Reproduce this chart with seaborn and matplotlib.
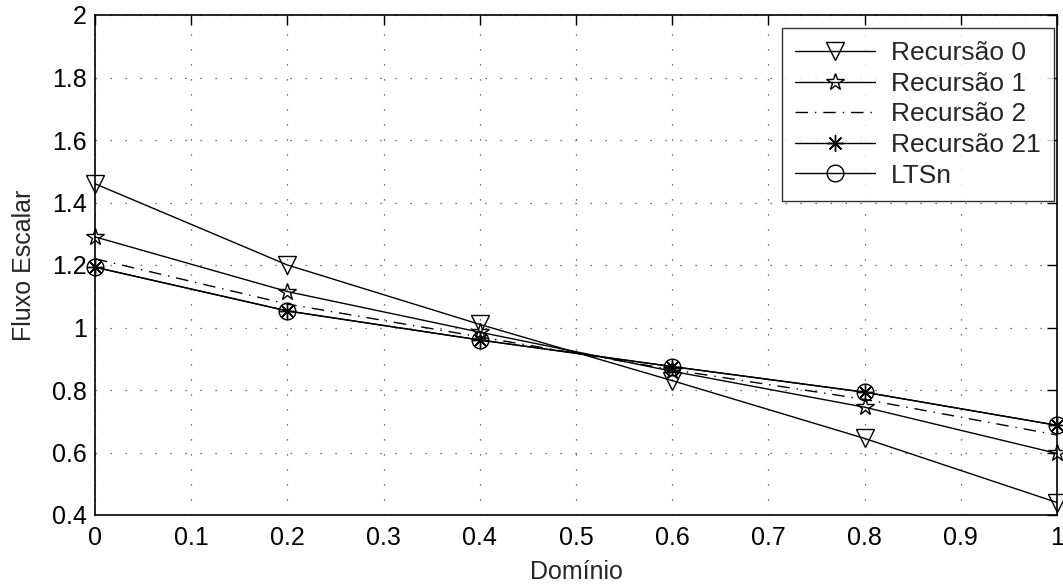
import numpy as np
import pandas as pd
import matplotlib
matplotlib.use("Agg")
import matplotlib.pyplot as plt
import seaborn as sns

x = [0.0, 0.2, 0.4, 0.6, 0.8, 1.0]
rec0 = [1.46, 1.20, 1.01, 0.83, 0.645, 0.44]
rec1 = [1.29, 1.115, 0.985, 0.86, 0.745, 0.597]
rec2 = [1.22, 1.075, 0.97, 0.865, 0.77, 0.656]
rec21 = [1.193, 1.053, 0.96, 0.875, 0.793, 0.687]
ltsn = [1.193, 1.053, 0.96, 0.875, 0.793, 0.687]

labels = ["Recursão 0", "Recursão 1", "Recursão 2", "Recursão 21", "LTSn"]
xticks = [0, 0.1, 0.2, 0.3, 0.4, 0.5, 0.6, 0.7, 0.8, 0.9, 1]
xticklabels = ["0", "0.1", "0.2", "0.3", "0.4", "0.5", "0.6", "0.7", "0.8", "0.9", "1"]
yticks = [0.4, 0.6, 0.8, 1.0, 1.2, 1.4, 1.6, 1.8, 2.0]
yticklabels = ["0.4", "0.6", "0.8", "1", "1.2", "1.4", "1.6", "1.8", "2"]

sns.set_style("white")
plt.rcParams['font.family'] = ['Liberation Sans', 'DejaVu Sans']

W, H = 1063, 587
fig = plt.figure(figsize=(W/100, H/100), dpi=100)
L, R, T, B = 95, 1057, 15, 515
ax = fig.add_axes([L/W, 1 - B/H, (R-L)/W, (B-T)/H])

series = [rec0, rec1, rec2, rec21, ltsn]
markers = ['v', '*', None, (8, 2, 0), 'o']
msizes = [13, 13, 0, 12, 12]
styles = ['-', '-', (0, (9, 5, 1, 5)), '-', '-']
for ys, lab, mk, ms, ls in zip(series, labels, markers, msizes, styles):
    sns.lineplot(x=x, y=ys, ax=ax, color='black', linewidth=1.0, label=lab)
    l = ax.get_lines()[-1]
    l.set_linestyle(ls)
    l.set_clip_on(False)
    if mk is not None:
        l.set_marker(mk)
        l.set_markersize(ms)
        l.set_markerfacecolor('none')
        l.set_markeredgecolor('black')
        l.set_markeredgewidth(1.0)

ax.set_xlim(0, 1)
ax.set_ylim(0.4, 2)
ax.set_xticks(xticks)
ax.set_xticklabels(xticklabels)
ax.set_yticks(yticks)
ax.set_yticklabels(yticklabels)
ax.tick_params(direction='in', length=7, width=1, top=True, right=True, labelsize=18, colors='black')
ax.tick_params(axis='x', pad=8)
ax.tick_params(axis='y', pad=6)
ax.grid(True, linestyle=(0, (1, 11)), color='#444444', linewidth=0.9)
for s in ax.spines.values():
    s.set_visible(True)
    s.set_color('black')
    s.set_linewidth(1.2)
ax.set_xlabel("Domínio", fontsize=18, labelpad=7)
ax.set_ylabel("Fluxo Escalar", fontsize=18, labelpad=11.5)

leg = ax.legend(loc='upper right', bbox_to_anchor=(1054/W, 1 - 28/H),
                bbox_transform=fig.transFigure, fontsize=19, frameon=True, fancybox=False,
                edgecolor='black', handlelength=3.05, borderpad=0.5,
                labelspacing=0.25, handletextpad=0.6, borderaxespad=0)
leg.get_frame().set_linewidth(1.0)
for h in leg.get_lines():
    h.set_clip_on(False)

fig.savefig("out.png", dpi=100)
